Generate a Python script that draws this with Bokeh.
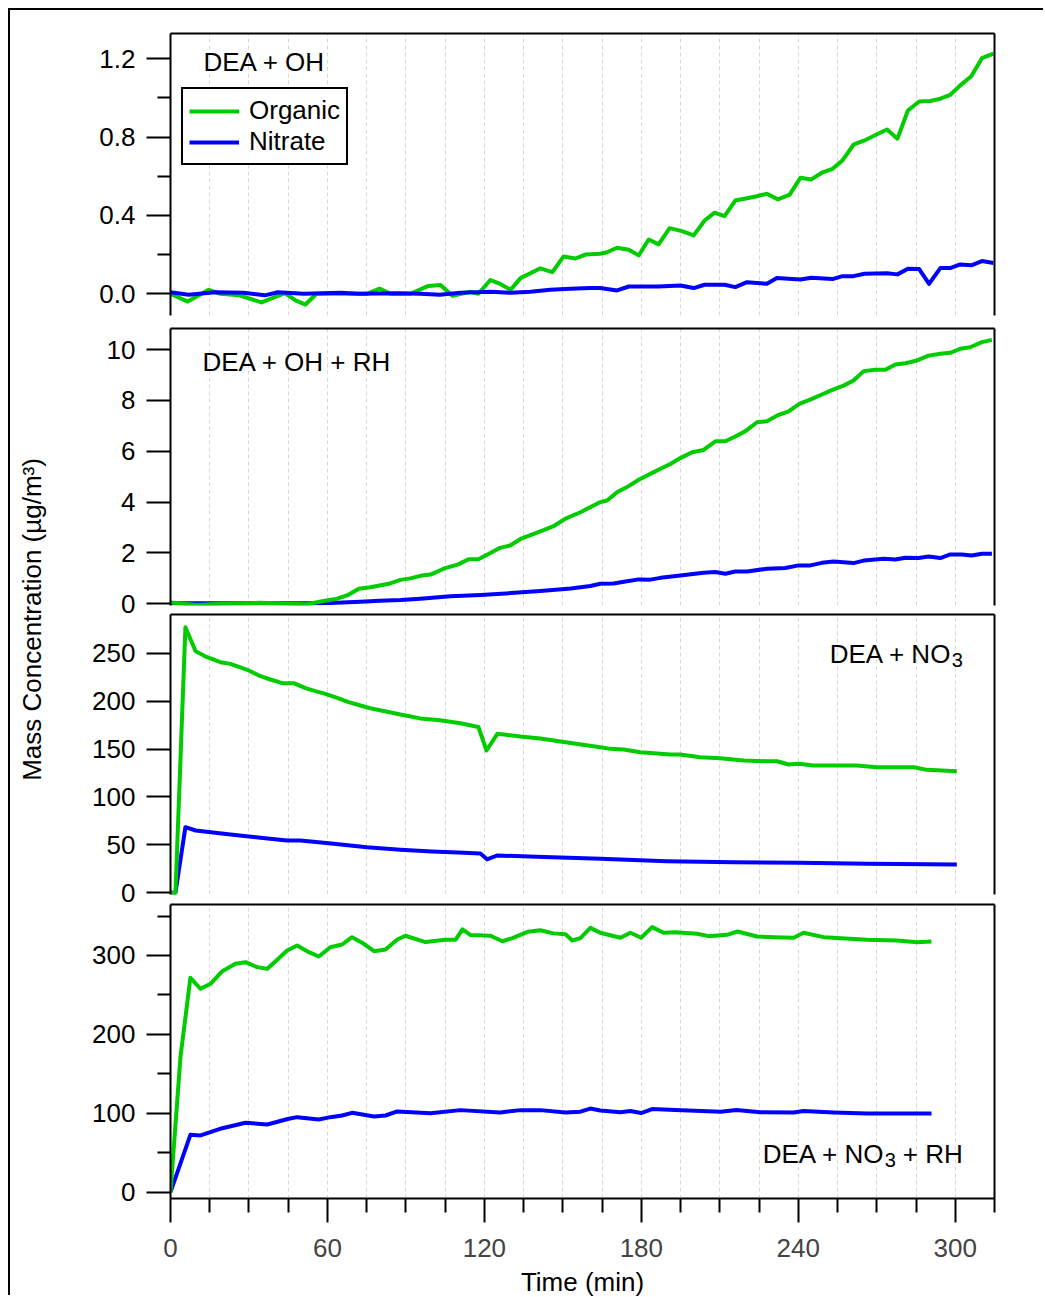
from math import pi
from bokeh.plotting import figure
from bokeh.models import (Range1d, LinearAxis, FixedTicker, Grid, Label, Legend, LegendItem,
                          PrintfTickFormatter)
from bokeh.layouts import column, row
from bokeh.embed import file_html
from bokeh.resources import INLINE

# ---------------- data ----------------
# Panel 1: DEA + OH
t1_org = [0, 6.6, 14.6, 19.1, 26.1, 34.8, 43.7, 47.8, 51.6, 55.8, 67.5, 75.2, 79.9, 84.1, 91.7, 98.6, 103.2,
          107.8, 114.6, 117.7, 122.3, 126.1, 130.0, 133.8, 141.4, 146.0, 150.2, 154.8, 158.6, 164.3, 166.9,
          170.7, 175.2, 179.0, 182.8, 186.6, 190.8, 195.5, 200.0, 204.2, 208.0, 211.8, 215.9, 220.4, 224.2,
          228.0, 232.2, 236.7, 240.8, 245.0, 249.0, 253.1, 256.9, 261.1, 265.3, 269.7, 273.9, 277.9, 281.9,
          286.2, 290.4, 294.3, 298.1, 301.9, 306.1, 310.2, 314.6]
org1 = [0.0, -0.04, 0.02, 0.0, -0.007, -0.044, 0.003, -0.034, -0.055, 0.0, 0.0, 0.0, 0.026, 0.0, 0.0, 0.04,
        0.045, -0.01, 0.01, 0.0, 0.07, 0.05, 0.02, 0.08, 0.13, 0.11, 0.19, 0.18, 0.20, 0.204, 0.212, 0.235,
        0.225, 0.196, 0.277, 0.252, 0.335, 0.32, 0.298, 0.374, 0.414, 0.396, 0.476, 0.488, 0.498, 0.511, 0.482,
        0.506, 0.592, 0.584, 0.618, 0.638, 0.681, 0.761, 0.783, 0.812, 0.839, 0.792, 0.936, 0.982, 0.984,
        0.996, 1.016, 1.064, 1.111, 1.203, 1.226]
t1_nit = [0, 7, 17, 28, 36, 41, 51, 58, 65, 72, 87, 95.5, 103, 110.8, 122.3, 130, 137.6, 145.2, 152.9, 160.5,
          164.3, 170.7, 175.2, 186.6, 194.9, 200.0, 204.2, 211.8, 215.9, 220.4, 228.0, 231.8, 240.8, 245.0,
          253.1, 256.9, 261.1, 265.3, 273.9, 277.9, 281.9, 286.2, 290.0, 294.3, 298.1, 301.9, 306.1, 310.2, 314.6]
nit1 = [0.008, -0.005, 0.008, 0.005, -0.008, 0.008, 0.0, 0.003, 0.005, 0.0, 0.003, 0.0, -0.005, 0.005, 0.01,
        0.005, 0.01, 0.02, 0.025, 0.03, 0.029, 0.017, 0.037, 0.037, 0.042, 0.029, 0.046, 0.046, 0.034, 0.059,
        0.051, 0.08, 0.073, 0.082, 0.075, 0.09, 0.09, 0.102, 0.105, 0.099, 0.128, 0.126, 0.051, 0.131, 0.131,
        0.15, 0.145, 0.167, 0.157]

# Panel 2: DEA + OH + RH
t2_org = [0, 10, 20, 34.4, 45, 52.2, 58, 63.7, 67.5, 72.0, 76.4, 84, 87.9, 91.7, 95.5, 99.4, 105, 110, 113.9,
          117.7, 122.3, 126, 130, 133.8, 141.4, 146.4, 151, 156.7, 164.3, 166.9, 170.7, 174.5, 179.0, 183.4,
          187.3, 191.1, 194.9, 199.4, 203.8, 208.3, 212.1, 215.9, 219.8, 224.2, 228.0, 232.5, 236.3, 240.4,
          245.2, 249.0, 253.5, 257.3, 261.1, 265.0, 269.4, 273.3, 277.1, 280.9, 285.4, 289.8, 294.3, 298.1,
          301.9, 305.7, 310.2, 314.0]
org2 = [0.05, -0.05, 0.0, 0.04, 0.0, -0.02, 0.1, 0.2, 0.33, 0.59, 0.65, 0.8, 0.94, 1.0, 1.1, 1.15, 1.4, 1.55,
        1.75, 1.75, 2.0, 2.2, 2.3, 2.55, 2.85, 3.05, 3.35, 3.6, 4.0, 4.06, 4.39, 4.59, 4.88, 5.11, 5.31, 5.5,
        5.73, 5.96, 6.05, 6.39, 6.39, 6.58, 6.79, 7.14, 7.18, 7.43, 7.57, 7.86, 8.06, 8.23, 8.43, 8.58, 8.78,
        9.15, 9.2, 9.2, 9.41, 9.46, 9.57, 9.76, 9.83, 9.87, 10.03, 10.09, 10.29, 10.38]
t2_nit = [0, 15, 30, 45, 55, 61, 72.6, 80, 88, 95.5, 107, 118.5, 130, 141.4, 153, 160.5, 164.3, 169.4, 174.5,
          179.0, 183.4, 187.3, 194.9, 203.8, 208.3, 212.1, 215.9, 220.4, 228.0, 235.0, 240.1, 244.6, 249.0,
          253.5, 261.1, 265.0, 272.7, 277.1, 280.9, 286.0, 289.8, 294.3, 298.1, 302.5, 306.3, 310.2, 314.0]
nit2 = [0.02, 0.02, 0.02, 0.02, 0.02, 0.03, 0.08, 0.12, 0.15, 0.2, 0.3, 0.35, 0.42, 0.5, 0.6, 0.7, 0.79, 0.8,
        0.89, 0.96, 0.95, 1.02, 1.11, 1.22, 1.25, 1.18, 1.27, 1.27, 1.38, 1.41, 1.51, 1.51, 1.61, 1.66, 1.6,
        1.7, 1.77, 1.74, 1.81, 1.80, 1.86, 1.80, 1.94, 1.94, 1.9, 1.97, 1.97]

# Panel 3: DEA + NO3
t3_org = [0, 1.9, 5.7, 9.6, 14.0, 19.1, 22.9, 29.9, 34.4, 38.2, 42.7, 47.1, 51.6, 55.4, 59.2, 63.7, 68.1, 72.6,
          76.4, 87.9, 95.5, 103, 110.8, 117.7, 120.8, 125, 133.8, 141.4, 151, 164.3, 168.2, 173.2, 179.6, 191.1,
          194.9, 202.5, 210.2, 219.1, 228.0, 231.9, 236.3, 240.1, 245.8, 262.4, 270.1, 284.1, 289.2, 300.6]
org3 = [0, 0, 277, 252, 245.8, 240.6, 238.9, 232, 226, 222.6, 218.7, 218.7, 213.5, 210.4, 207.6, 203.5, 198.9,
        195.4, 192.6, 186, 182, 180, 177, 173, 148.5, 166, 163, 161, 157, 151.9, 150.2, 149.5, 146.7, 144.3,
        144.3, 141.5, 140.4, 138, 137.3, 137.3, 133.9, 134.6, 132.8, 132.8, 131, 131, 128.3, 126.9]
t3_nit = [0, 1.9, 5.7, 9.6, 22.9, 34.4, 44.6, 49.7, 62.4, 75.1, 87.9, 100, 110, 118.5, 121, 125, 140, 164.3,
          189.8, 215.3, 240.8, 266.3, 300.6]
nit3 = [0, 0, 68.5, 65, 60.8, 57.4, 54.6, 54.6, 51.1, 47.6, 44.9, 43, 42, 41, 35, 39, 37.5, 35.5, 33, 32, 31.3,
        30.2, 29.5]

# Panel 4: DEA + NO3 + RH
t4_org = [0, 3.8, 7.6, 11.5, 15.3, 19.8, 24.8, 28.7, 33.1, 37.0, 40.8, 44.6, 48.4, 52.9, 56.7, 61.1, 65.6, 69.4,
          73.9, 77.8, 82.2, 86.7, 89.8, 97.5, 105, 109, 111.6, 114.6, 122.3, 126.9, 130.7, 136.5, 141.4, 146.4,
          151, 153.6, 156.7, 160.5, 164.3, 172.0, 175.8, 179.9, 184.1, 188.5, 193.0, 201.3, 205.7, 212.7, 216.8,
          224.2, 230.6, 238.2, 242.0, 249.7, 266.3, 277.8, 285.4, 290.9]
org4 = [0, 171, 271.7, 257.8, 264.1, 280.1, 289.5, 291.5, 285.2, 283.1, 294.5, 306.3, 312.7, 304.2, 298.7, 310.5,
        313.9, 323.2, 314.8, 305.4, 307.6, 320.3, 325, 317, 320, 320, 333, 326, 325, 318, 322, 330, 332, 328,
        327, 319, 322, 335, 328.8, 322.4, 328.8, 322.4, 335.9, 328.8, 329.5, 327.5, 324.5, 326.2, 330.4, 324.1,
        323.2, 322.4, 328.8, 323.2, 319.9, 319, 316.9, 317.7]
t4_nit = [0, 7.6, 11.5, 19.8, 28.7, 37.0, 45.2, 48.4, 56.7, 61.1, 65.6, 69.4, 77.8, 82.2, 86.7, 99.4, 110.8, 126,
          133.8, 141.4, 151, 156.7, 160.5, 164.3, 172.0, 175.8, 179.9, 184.1, 193.0, 210.3, 216.3, 225.5, 238.2,
          242.0, 253.5, 266.3, 285.4, 290.9]
nit4 = [0, 72.7, 71.9, 81.1, 88, 85.8, 93, 95.1, 92.1, 95.1, 97.2, 100.6, 95.9, 97.2, 102.3, 100, 104, 101, 104,
        104, 101, 102, 106, 103.5, 101.2, 102.9, 100.3, 105.3, 104.3, 102, 104.3, 101.2, 100.9, 102.9, 100.9,
        99.6, 99.6, 99.6]

x_major_ticks = [0, 60, 120, 180, 240, 300]
x_minor_ticks = [15, 30, 45, 75, 90, 105, 135, 150, 165, 195, 210, 225, 255, 270, 285, 315]
grid_ticks = [15, 30, 45, 60, 75, 90, 105, 120, 135, 150, 165, 180, 195, 210, 225, 240, 255, 270, 285, 300]

title_oh = "DEA + OH"
title_oh_rh = "DEA + OH + RH"
title_no = "DEA + NO"      # followed by subscript "3"
title_sub = "3"
title_rh_tail = "+ RH"
y_label = "Mass Concentration (\u00b5g/m\u00b3)"
x_label = "Time (min)"

# ---------------- style ----------------
FONT = "Liberation Sans"
FS = "26px"
GREEN = "#00cc00"
BLUE = "#0000ff"
LW = 4

xr = Range1d(0, 315)


def line_only_axis():
    return LinearAxis(ticker=FixedTicker(ticks=[]), major_label_text_font_size="0px",
                      major_tick_out=0, major_tick_in=0, minor_tick_out=0, minor_tick_in=0,
                      major_label_standoff=0, axis_line_width=2, axis_line_color="black")


def make_panel(yr, height, mb_top, mb_bottom, yticks, yminor, fmt, overlap):
    p = figure(width=975, height=height, x_range=xr, y_range=Range1d(*yr),
               x_axis_type=None, y_axis_type=None, toolbar_location=None,
               output_backend="svg", min_border_left=100, min_border_right=51,
               min_border_top=mb_top, min_border_bottom=mb_bottom,
               outline_line_color=None, background_fill_alpha=0, border_fill_alpha=0,
               margin=(-overlap, 0, 0, 0))
    p.add_layout(Grid(dimension=0, ticker=FixedTicker(ticks=grid_ticks), grid_line_color="#d8d8d8",
                      grid_line_dash="4 3", grid_line_width=1))
    ax = LinearAxis(ticker=FixedTicker(ticks=yticks, minor_ticks=yminor),
                    formatter=PrintfTickFormatter(format=fmt),
                    major_tick_out=24, major_tick_in=0, minor_tick_out=13, minor_tick_in=0,
                    major_label_standoff=11, axis_line_width=2, major_tick_line_width=2,
                    minor_tick_line_width=2, major_label_text_font=FONT,
                    major_label_text_font_size=FS, major_label_text_color="black")
    p.add_layout(ax, "left")
    p.add_layout(line_only_axis(), "right")
    p.add_layout(line_only_axis(), "above")
    return p


p1 = make_panel((-0.111, 1.329), 321, 23, 16, [0, 0.4, 0.8, 1.2], [0.2, 0.6, 1.0], "%.1f", 0)
p2 = make_panel((-0.067, 10.826), 298, 5, 16, [0, 2, 4, 6, 8, 10], [], "%d", 8)
p3 = make_panel((-1.77, 290.4), 301, 5, 16, [0, 50, 100, 150, 200, 250], [], "%d", 12)
p4 = make_panel((-8.0, 364.6), 406, 5, 107, [0, 100, 200, 300], [50, 150, 250, 350], "%d", 11)

xax = LinearAxis(ticker=FixedTicker(ticks=x_major_ticks, minor_ticks=x_minor_ticks),
                 axis_label=x_label, major_tick_out=24, major_tick_in=0, minor_tick_out=14,
                 minor_tick_in=0, major_label_standoff=16, axis_label_standoff=7,
                 axis_line_width=2, major_tick_line_width=2, minor_tick_line_width=2,
                 major_label_text_font=FONT, major_label_text_font_size=FS,
                 axis_label_text_font=FONT, axis_label_text_font_size=FS,
                 axis_label_text_font_style="normal", axis_label_text_color="black")
p4.add_layout(xax, "below")

lk = dict(line_width=LW, line_join="round")
r1o = p1.line(t1_org, org1, line_color=GREEN, **lk)
r1n = p1.line(t1_nit, nit1, line_color=BLUE, **lk)
p2.line(t2_nit, nit2, line_color=BLUE, **lk)
p2.line(t2_org, org2, line_color=GREEN, **lk)
p3.line(t3_nit, nit3, line_color=BLUE, **lk)
p3.line(t3_org, org3, line_color=GREEN, **lk)
p4.line(t4_nit, nit4, line_color=BLUE, **lk)
p4.line(t4_org, org4, line_color=GREEN, **lk)

legend = Legend(items=[LegendItem(label="Organic", renderers=[r1o]),
                       LegendItem(label="Nitrate", renderers=[r1n])],
                location=(11, 150), border_line_color="black", border_line_width=2,
                border_line_alpha=1, padding=6, spacing=0, glyph_width=50, glyph_height=28,
                label_height=28, label_standoff=10, margin=0, label_text_font=FONT,
                label_text_font_size=FS, label_text_color="black",
                background_fill_color="white", background_fill_alpha=1)
p1.add_layout(legend)

lab_kw = dict(text_font=FONT, text_font_size=FS, text_color="black", text_baseline="middle")
p1.add_layout(Label(x=12.6, y=1.181, text=title_oh, text_align="left", **lab_kw))
p2.add_layout(Label(x=12.2, y=9.49, text=title_oh_rh, text_align="left", **lab_kw))

base_kw = dict(text_font=FONT, text_color="black", text_baseline="alphabetic", text_align="left")
# DEA + NO3 (panel 3)
p3.add_layout(Label(x=252.0, y=249.3, text=title_no, text_font_size=FS, **base_kw))
p3.add_layout(Label(x=252.0, y=249.3, x_offset=122, y_offset=-6, text=title_sub,
                    text_font_size="20px", **base_kw))
# DEA + NO3 + RH (panel 4)
p4.add_layout(Label(x=226.4, y=48.7, text=title_no, text_font_size=FS, **base_kw))
p4.add_layout(Label(x=226.4, y=48.7, x_offset=122, y_offset=-6, text=title_sub,
                    text_font_size="20px", **base_kw))
p4.add_layout(Label(x=226.4, y=48.7, x_offset=140, text=title_rh_tail, text_font_size=FS, **base_kw))

# y-axis title strip
pl = figure(width=60, height=1287, x_range=Range1d(0, 60), y_range=Range1d(0, 1287),
            x_axis_type=None, y_axis_type=None, toolbar_location=None, output_backend="svg",
            min_border=0, outline_line_color=None, background_fill_alpha=0, border_fill_alpha=0)
pl.add_layout(Label(x=21, y=678, text=y_label, angle=pi / 2, text_align="center",
                    text_baseline="middle", text_font=FONT, text_font_size=FS, text_color="black"))

col = column(p1, p2, p3, p4, spacing=0, width=975, height=1287, styles={"overflow": "hidden"})
layout = row(pl, col, spacing=0, width=1035, height=1287, margin=(10, 0, 0, 10),
             styles={"box-shadow": "-2px -2px 0 0 black", "overflow": "hidden"})

open("out.html", "w").write(file_html(layout, INLINE))
